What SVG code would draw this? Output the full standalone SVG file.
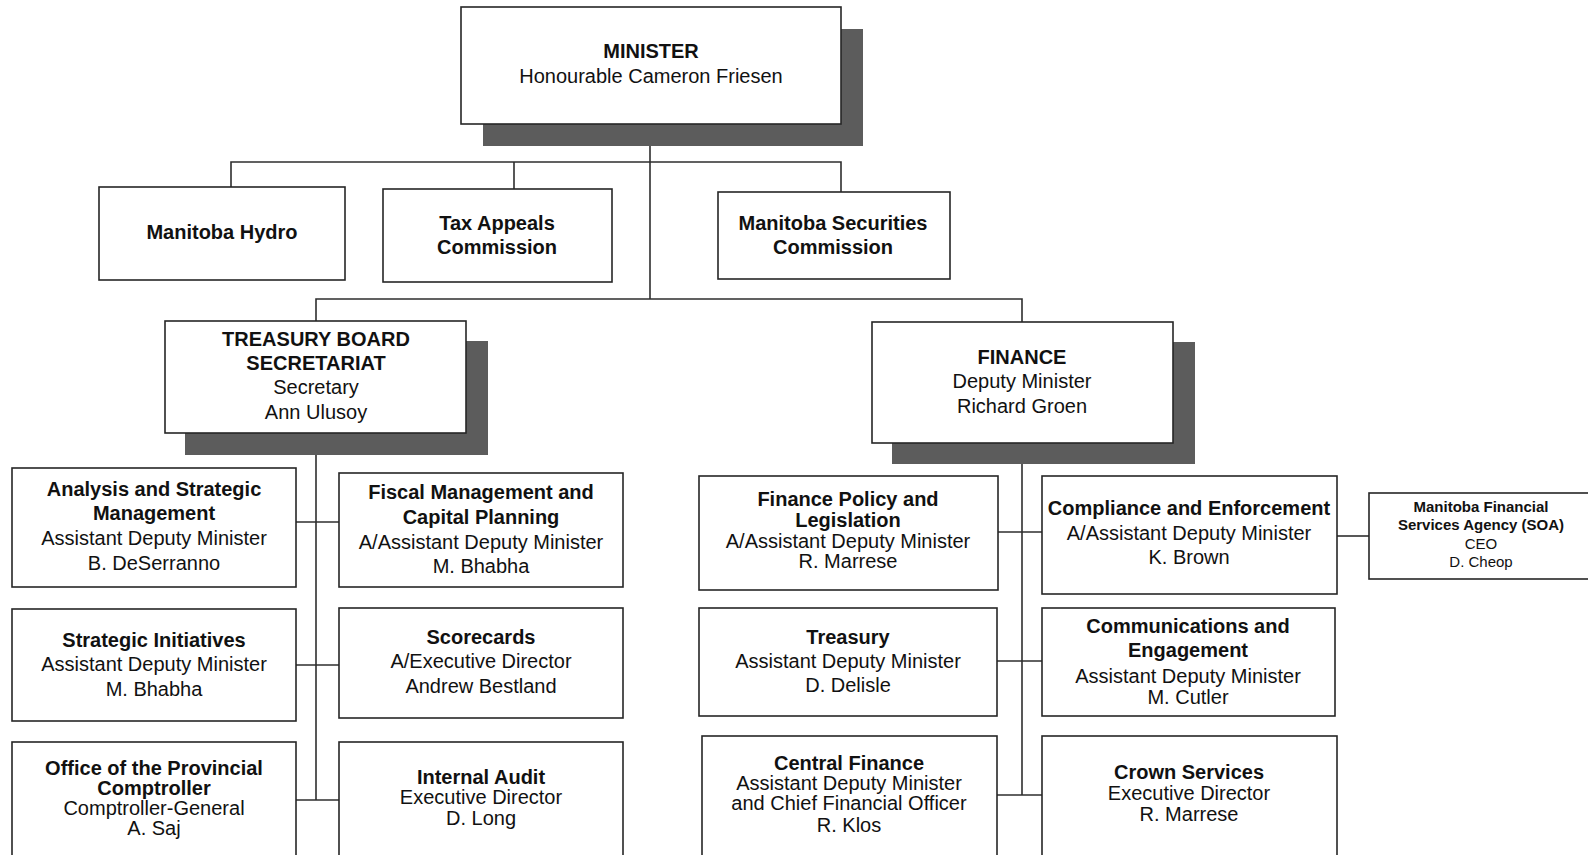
<svg xmlns="http://www.w3.org/2000/svg" width="1588" height="855" viewBox="0 0 1588 855">
<style>
.bg{fill:#ffffff}
.box{fill:#ffffff;stroke:#262626;stroke-width:1.6}
.sh{fill:#5c5c5c}
.ln{stroke:#2e2e2e;stroke-width:1.6;fill:none}
text{font-family:"Liberation Sans",Arial,sans-serif;font-size:20px;fill:#111;text-anchor:middle}
.b{font-weight:bold}
.s{font-size:15px}
</style>
<rect class="bg" x="0" y="0" width="1588" height="855"/>
<g id="connectors">
<line class="ln" x1="650" y1="124" x2="650" y2="299"/>
<polyline class="ln" points="231,187 231,162 841,162 841,192"/>
<line class="ln" x1="514" y1="162" x2="514" y2="189"/>
<polyline class="ln" points="316,321 316,299 1022,299 1022,322"/>
<line class="ln" x1="316" y1="433" x2="316" y2="800"/>
<line class="ln" x1="296" y1="522" x2="339" y2="522"/>
<line class="ln" x1="296" y1="665" x2="339" y2="665"/>
<line class="ln" x1="296" y1="800" x2="339" y2="800"/>
<line class="ln" x1="1022" y1="443" x2="1022" y2="795"/>
<line class="ln" x1="998" y1="532" x2="1042" y2="532"/>
<line class="ln" x1="997" y1="661" x2="1042" y2="661"/>
<line class="ln" x1="997" y1="795" x2="1042" y2="795"/>
<line class="ln" x1="1337" y1="536" x2="1369" y2="536"/>
</g>
<g id="minister">
<rect class="sh" x="483" y="29" width="380" height="117"/>
<rect class="box" x="461" y="7" width="380" height="117"/>
<text class="b" x="651" y="58">MINISTER</text>
<text x="651" y="83">Honourable Cameron Friesen</text>
</g>
<g id="hydro">
<rect class="box" x="99" y="187" width="246" height="93"/>
<text class="b" x="222" y="239">Manitoba Hydro</text>
</g>
<g id="tax-appeals">
<rect class="box" x="383" y="189" width="229" height="93"/>
<text class="b" x="497" y="230">Tax Appeals</text>
<text class="b" x="497" y="254">Commission</text>
</g>
<g id="securities">
<rect class="box" x="718" y="192" width="232" height="87"/>
<text class="b" x="833" y="230">Manitoba Securities</text>
<text class="b" x="833" y="254">Commission</text>
</g>
<g id="tbs">
<rect class="sh" x="185" y="341" width="303" height="114"/>
<rect class="box" x="165" y="321" width="301" height="112"/>
<text class="b" x="316" y="346">TREASURY BOARD</text>
<text class="b" x="316" y="370">SECRETARIAT</text>
<text x="316" y="394">Secretary</text>
<text x="316" y="419">Ann Ulusoy</text>
</g>
<g id="finance">
<rect class="sh" x="892" y="342" width="303" height="122"/>
<rect class="box" x="872" y="322" width="301" height="121"/>
<text class="b" x="1022" y="364">FINANCE</text>
<text x="1022" y="388">Deputy Minister</text>
<text x="1022" y="413">Richard Groen</text>
</g>
<g id="analysis">
<rect class="box" x="12" y="468" width="284" height="119"/>
<text class="b" x="154" y="496">Analysis and Strategic</text>
<text class="b" x="154" y="520">Management</text>
<text x="154" y="545">Assistant Deputy Minister</text>
<text x="154" y="570">B. DeSerranno</text>
</g>
<g id="fiscal">
<rect class="box" x="339" y="473" width="284" height="114"/>
<text class="b" x="481" y="499">Fiscal Management and</text>
<text class="b" x="481" y="524">Capital Planning</text>
<text x="481" y="549">A/Assistant Deputy Minister</text>
<text x="481" y="573">M. Bhabha</text>
</g>
<g id="strategic">
<rect class="box" x="12" y="609" width="284" height="112"/>
<text class="b" x="154" y="647">Strategic Initiatives</text>
<text x="154" y="671">Assistant Deputy Minister</text>
<text x="154" y="696">M. Bhabha</text>
</g>
<g id="scorecards">
<rect class="box" x="339" y="608" width="284" height="110"/>
<text class="b" x="481" y="644">Scorecards</text>
<text x="481" y="668">A/Executive Director</text>
<text x="481" y="693">Andrew Bestland</text>
</g>
<g id="comptroller">
<rect class="box" x="12" y="742" width="284" height="125"/>
<text class="b" x="154" y="775">Office of the Provincial</text>
<text class="b" x="154" y="795">Comptroller</text>
<text x="154" y="815">Comptroller-General</text>
<text x="154" y="835">A. Saj</text>
</g>
<g id="audit">
<rect class="box" x="339" y="742" width="284" height="125"/>
<text class="b" x="481" y="784">Internal Audit</text>
<text x="481" y="804">Executive Director</text>
<text x="481" y="825">D. Long</text>
</g>
<g id="policy">
<rect class="box" x="699" y="476" width="299" height="114"/>
<text class="b" x="848" y="506">Finance Policy and</text>
<text class="b" x="848" y="527">Legislation</text>
<text x="848" y="548">A/Assistant Deputy Minister</text>
<text x="848" y="568">R. Marrese</text>
</g>
<g id="compliance">
<rect class="box" x="1042" y="476" width="295" height="118"/>
<text class="b" x="1189" y="515">Compliance and Enforcement</text>
<text x="1189" y="540">A/Assistant Deputy Minister</text>
<text x="1189" y="564">K. Brown</text>
</g>
<g id="mfsa">
<rect class="box" x="1369" y="493" width="226" height="86"/>
<text class="b s" x="1481" y="512">Manitoba Financial</text>
<text class="b s" x="1481" y="530">Services Agency (SOA)</text>
<text class="s" x="1481" y="549">CEO</text>
<text class="s" x="1481" y="567">D. Cheop</text>
</g>
<g id="treasury">
<rect class="box" x="699" y="608" width="298" height="108"/>
<text class="b" x="848" y="644">Treasury</text>
<text x="848" y="668">Assistant Deputy Minister</text>
<text x="848" y="692">D. Delisle</text>
</g>
<g id="communications">
<rect class="box" x="1042" y="608" width="293" height="108"/>
<text class="b" x="1188" y="633">Communications and</text>
<text class="b" x="1188" y="657">Engagement</text>
<text x="1188" y="683">Assistant Deputy Minister</text>
<text x="1188" y="704">M. Cutler</text>
</g>
<g id="central-finance">
<rect class="box" x="702" y="736" width="295" height="130"/>
<text class="b" x="849" y="770">Central Finance</text>
<text x="849" y="790">Assistant Deputy Minister</text>
<text x="849" y="810">and Chief Financial Officer</text>
<text x="849" y="832">R. Klos</text>
</g>
<g id="crown">
<rect class="box" x="1042" y="736" width="295" height="130"/>
<text class="b" x="1189" y="779">Crown Services</text>
<text x="1189" y="800">Executive Director</text>
<text x="1189" y="821">R. Marrese</text>
</g>
</svg>
